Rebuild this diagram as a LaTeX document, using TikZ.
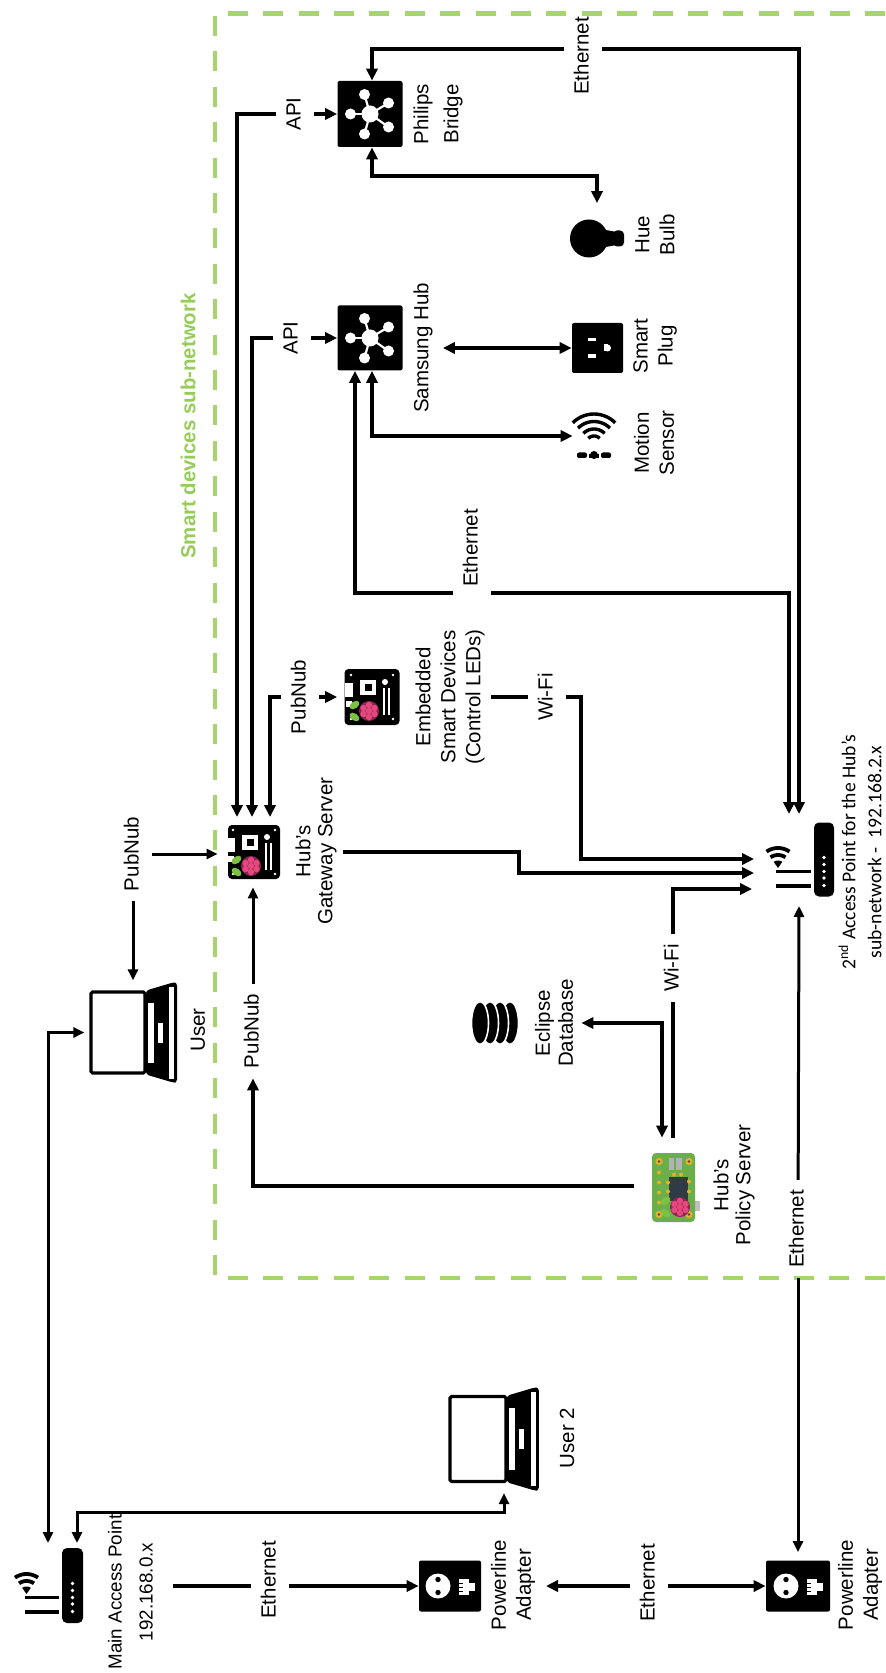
\documentclass[tikz,border=0pt]{standalone}
\usepackage{xcolor}
\usepackage{fontspec}
\setmainfont{Liberation Sans}
\newfontfamily\apfont{Carlito}
\usepackage{tikz}
\usetikzlibrary{arrows.meta,positioning,calc}
\definecolor{zonegreen}{HTML}{A6D56B}
\definecolor{zonetext}{HTML}{96CC58}
\definecolor{boardgreen}{HTML}{6BAF4B}
\definecolor{padgold}{HTML}{E5B02A}
\definecolor{socdark}{HTML}{2F3B45}
\definecolor{rasppink}{HTML}{E5487F}
\definecolor{raspdark}{HTML}{8A2450}
\definecolor{leafgreen}{HTML}{7CC242}
\tikzset{
  lbl/.style    ={rotate=90,align=center,inner sep=3pt,font=\fontsize{10.25}{11}\selectfont},
  gaplbl/.style ={lbl,text height=7.5pt,text depth=2pt,inner ysep=4.75pt,inner xsep=5pt},
  iconbox/.style={fill=black,rounded corners=1pt,inner sep=0pt},
  wire/.style   ={line width=2pt,draw=black},
  flow/.style   ={-{Stealth[length=6pt,width=5.6pt,inset=0pt]},line width=2pt,draw=black},
  dflow/.style  ={{Stealth[length=6pt,width=5.6pt,inset=0pt]}-{Stealth[length=6pt,width=5.6pt,inset=0pt]},line width=2pt,draw=black},
  tflow/.style  ={-{Stealth[length=5.5pt,width=5pt,inset=0pt]},line width=1.5pt,draw=black},
  dtflow/.style ={{Stealth[length=5.5pt,width=5pt,inset=0pt]}-{Stealth[length=5.5pt,width=5pt,inset=0pt]},line width=1.5pt,draw=black},
  zone/.style   ={draw=zonegreen,line width=2.2pt,dash pattern=on 10pt off 7.7pt},
  hubglyph/.pic={
    \foreach \px/\py in {-5.5/-19.5,18.5/-11,18.5/13,-5.5/20,-19.5/0}{
      \draw[white,line width=1.1pt] (0,0) -- (\px,\py);
      \fill[white] (\px,\py) circle[radius=5.5];
    }
    \fill[white] (0,0) circle[radius=8.5];
  },
  plugglyph/.pic={
    \fill[white] (-10,-10) rectangle (-2,-6.5);
    \fill[white] (-10,6.5) rectangle (-2,10);
    \fill[white] (6.5,-3.5) rectangle (10,3.5);
    \fill[white] (10,0) circle[radius=3.5];
  },
  powerglyph/.pic={
    \fill[white] (-12,0) circle[radius=12.5];
    \fill[black] (-12,-6.5) circle[radius=2.7];
    \fill[black] (-12,6.5) circle[radius=2.7];
    \fill[white] (9,-7) rectangle (19,9);
    \fill[white] (19,-3) rectangle (25,5);
    \foreach \py in {-3,1,5}{\fill[black] (9,\py) rectangle (13,\py+1.2);}
  },
  apglyph/.pic={
    \foreach \py in {-2,5,12,18.5,26}{\fill[white] (0,\py) circle[radius=1.8];}
    \foreach \py in {12,26.5}{\fill[black] (-48,\py-1.7) rectangle (-13.5,\py+1.7);}
    \begin{scope}[shift={(-46,8.5)}]
      \foreach \r in {20,13}{
        \draw[line width=1.9pt] plot[domain=235:305,samples=15] (\x:\r);
      }
      \fill[black] (0,0) -- plot[domain=235:305,samples=9] (\x:7.5) -- cycle;
    \end{scope}
  },
  sensorglyph/.pic={
    \begin{scope}[shift={(0,8)}]
      \foreach \r in {30,22.5,15,8}{
        \draw[line width=1.7pt] plot[domain=225:315,samples=15] (\x:\r);
      }
    \end{scope}
    \fill[black] (0,19) circle[radius=4];
    \fill[black,rounded corners=1pt] (-17,22) rectangle (-7,16.5);
    \fill[black,rounded corners=1pt] (7,16.5) rectangle (17,22);
    \fill[black] (-5,22) rectangle (5,18);
  },
  raspglyph/.pic={
    \fill[leafgreen] (-14.5,-6) circle[x radius=5.5,y radius=3.5,rotate=35];
    \fill[leafgreen] (-14.5,6) circle[x radius=5.5,y radius=3.5,rotate=-35];
    \fill[raspdark] (0,0) circle[radius=10];
    \foreach \px/\py in {0/0,0/-6,0/6,-5.5/-3,5.5/-3,-5.5/3,5.5/3}{
      \fill[rasppink] (\px,\py) circle[radius=3.2];
    }
  },
  piboard/.pic={
    \fill[white] (-27,-14) rectangle (-19,0);
    \fill[white] (-12,-17) rectangle (4,-2);
    \fill[black] (-7,-13) rectangle (0,-6);
    \fill[white] (13,-15) circle[radius=3];
    \fill[white] (11,-9) rectangle (13,18);
    \fill[white] (16,-9) rectangle (18,18);
    \fill[white] (-26,4) rectangle (-20,10);
    \foreach \px/\py in {-21/-22,21/-22,-21/22,21/22}{\fill[white] (\px,\py) circle[radius=1.4];}
    \pic at (-3,14) {raspglyph};
  },
  policyboard/.pic={
    \fill[black!25] (21,13) rectangle (27,23);
    \fill[boardgreen,rounded corners=2pt] (-21,-34.5) rectangle (22,34.5);
    \fill[black!30] (-4,-30) rectangle (1,-18);
    \fill[black!30] (3,-30) rectangle (9,-18);
    \fill[socdark] (-4,-11) rectangle (15,13);
    \foreach \px/\py in {-14/-26,16/-26,-14/27,16/27}{
      \fill[padgold] (\px,\py) circle[radius=3.6];
      \fill[black!70] (\px,\py) circle[radius=1.3];
    }
    \foreach \px/\py in {-14/-15,-14/-5,-14/5,-14/15,-5/-5,-5/4,1/-13,8/-13,16/-6,16/4}{
      \fill[padgold] (\px,\py) circle[radius=2];
    }
    \pic at (7,19.5) {raspglyph};
  },
  laptopglyph/.pic={
    \fill[black,rounded corners=1.5pt] (28,-42) -- (55,-50) -- (59,-50) -- (59,50) -- (55,50) -- (28,42) -- cycle;
    \fill[white] (30,-30) rectangle (36,30);
    \fill[white] (40,-10) rectangle (45,10);
    \fill[white] (51,-46) rectangle (56,46);
  },
  bulbglyph/.pic={
    \fill[black] (14,-9) -- (25,-7) -- (25,7) -- (14,9) -- cycle;
    \fill[black,rounded corners=2pt] (24,-8) rectangle (35,8);
  },
  dbglyph/.pic={
    \foreach \px in {15,5,-5,-15}{
      \filldraw[fill=black,draw=white,line width=0.8pt] (\px,0) circle[x radius=8.5,y radius=21.5];
    }
  }
}
\begin{document}
\begin{tikzpicture}[x=0.5pt,y=-0.5pt]
  \useasboundingbox (0,0) rectangle (885,1673);
  \draw[zone] (885,13.5) -- (215,13.5) -- (215,1278) -- (885,1278);
  \node[lbl,font=\fontsize{10.2}{12}\selectfont\bfseries,text=zonetext] (zonelbl) at (188,426) {Smart devices sub-network};

  \node[iconbox,minimum width=32.5pt,minimum height=33pt] (bridge) at (370,114) {};
  \pic at (bridge) {hubglyph};
  \node[lbl] (bridgelbl) at (438,114) {Philips\\[4pt]Bridge};
  \node[iconbox,minimum width=32.5pt,minimum height=32.5pt] (samsung) at (370,338) {};
  \pic at (samsung) {hubglyph};
  \node[lbl] (samsunglbl) at (423,348) {Samsung Hub};
  \node[fill=black,circle,inner sep=0pt,minimum size=19pt] (bulb) at (589,238.5) {};
  \pic at (bulb) {bulbglyph};
  \node[lbl] (bulblbl) at (655,235) {Hue\\[1.5pt]Bulb};
  \node[iconbox,minimum width=25.5pt,minimum height=25pt] (plug) at (597.5,348) {};
  \pic at (plug) {plugglyph};
  \node[lbl] (pluglbl) at (655,346) {Smart\\[1.5pt]Plug};
  \node[minimum width=21pt,minimum height=22pt,inner sep=0pt] (motion) at (594,436) {};
  \pic at (motion) {sensorglyph};
  \node[lbl] (motionlbl) at (654,443) {Motion\\[1.5pt]Sensor};
  \node[iconbox,minimum width=27.5pt,minimum height=28pt,rounded corners=2pt] (embedded) at (372,697) {};
  \pic at (embedded) {piboard};
  \node[lbl] (embeddedlbl) at (450,697) {Embedded\\[1.5pt]Smart Devices\\[1.5pt](Control LEDs)};
  \node[iconbox,minimum width=26pt,minimum height=27pt,rounded corners=2pt] (gateway) at (254,852) {};
  \pic at (gateway) {piboard};
  \node[lbl] (gatewaylbl) at (316,851) {Hub’s\\Gateway Server};
  \node[minimum width=21.5pt,minimum height=34.5pt,inner sep=0pt] (policy) at (673,1187.5) {};
  \pic at (policy) {policyboard};
  \node[lbl] (policylbl) at (734,1185) {Hub’s\\Policy Server};
  \node[minimum width=23pt,minimum height=21pt,inner sep=0pt] (eclipse) at (495,1023) {};
  \pic at (eclipse) {dbglyph};
  \node[lbl] (eclipselbl) at (554,1023) {Eclipse\\[0.5pt]Database};
  \node[draw=black,fill=white,line width=1.6pt,rounded corners=0.8pt,minimum width=27pt,minimum height=40.5pt,inner sep=0pt] (user) at (118,1032.5) {};
  \pic at (user) {laptopglyph};
  \node[lbl] (userlbl) at (198,1030) {User};
  \node[draw=black,fill=white,line width=1.6pt,rounded corners=0.8pt,minimum width=28pt,minimum height=42.5pt,inner sep=0pt] (usertwo) at (478,1439) {};
  \pic[scale=1.03] at (usertwo) {laptopglyph};
  \node[lbl] (usertwolbl) at (567,1438) {User 2};
  \node[iconbox,minimum width=10pt,minimum height=37pt,rounded corners=2.5pt] (apsub) at (824,859.5) {};
  \pic at (apsub) {apglyph};
  \node[lbl,inner sep=0pt,font=\apfont\fontsize{9.8}{13}\selectfont] (apsublbl) at (860,852) {2\textsuperscript{nd} Access Point for the Hub’s\\sub-network -~~192.168.2.x};
  \node[iconbox,minimum width=10.5pt,minimum height=37.5pt,rounded corners=2.5pt] (apmain) at (72.5,1585.5) {};
  \pic at (apmain) {apglyph};
  \node[lbl,font=\fontsize{9.4}{15.5}\selectfont] (apmainlbl) at (130.5,1592) {Main Access Point\\192.168.0.x};
  \node[iconbox,minimum width=31pt,minimum height=25.5pt] (powerone) at (450,1586) {};
  \pic at (powerone) {powerglyph};
  \node[lbl] (poweronelbl) at (513,1585) {Powerline\\[1.5pt]Adapter};
  \node[iconbox,minimum width=32pt,minimum height=25.5pt] (powertwo) at (798,1586) {};
  \pic at (powertwo) {powerglyph};
  \node[lbl] (powertwolbl) at (860,1585) {Powerline\\[1.5pt]Adapter};

  \node[gaplbl] (ethtop) at (583,56) {Ethernet};
  \node[gaplbl] (ethhub) at (472,548) {Ethernet};
  \node[gaplbl] (ethap) at (798,1229) {Ethernet};
  \node[gaplbl] (ethone) at (270,1580) {Ethernet};
  \node[gaplbl] (ethtwo) at (649,1583) {Ethernet};
  \node[gaplbl] (apibridge) at (295,114) {API};
  \node[gaplbl] (apisamsung) at (292,338) {API};
  \node[gaplbl] (pubuser) at (133,854) {PubNub};
  \node[gaplbl] (pubpolicy) at (253,1031) {PubNub};
  \node[gaplbl] (pubembedded) at (300,697) {PubNub};
  \node[gaplbl] (wifiembedded) at (547,697) {Wi-Fi};
  \node[gaplbl] (wifipolicy) at (673,968) {Wi-Fi};

  \coordinate (gwa) at (237,817);
  \coordinate (gwb) at (252,817);
  \coordinate (gwc) at (270,817);
  \coordinate (apa) at (789,814);
  \coordinate (apb) at (799,814);
  \coordinate (apc) at (754,859);
  \coordinate (apd) at (754,873);
  \coordinate (ape) at (752,889);
  \coordinate (apf) at (799,906);
  \coordinate (ethtopline) at (799,49);
  \coordinate (ethhubline) at (789,593);
  \coordinate (mainout) at (173,1586);
  \coordinate (powerin) at (546,1586);
  \coordinate (maina) at (48,1543);
  \coordinate (mainb) at (77,1543);

  \draw[flow] (ethtop.south |- ethtopline) -- (ethtopline) -- (apb);
  \draw[flow] (ethtop.north |- ethtopline) -| ([xshift=1pt]bridge.north);
  \draw[flow] (apibridge) -| (gwa);
  \draw[flow] (apibridge) -- (bridge);
  \draw[dflow] ([xshift=1pt]bridge.south) -- ++(0,29) -| ([xshift=4pt,yshift=8pt]bulb.north);
  \draw[flow] (apisamsung) -| (gwb);
  \draw[flow] (apisamsung) -- (samsung);
  \draw[dflow,shorten <=2pt] (samsunglbl) -- (plug);
  \draw[dflow] ([xshift=1pt]samsung.south) |- (motion);
  \draw[flow] (ethhub.north |- ethhubline) -| ([xshift=-7.5pt]samsung.south);
  \draw[flow] (ethhub.south |- ethhubline) -- (ethhubline) -- (apa);
  \draw[flow] (pubembedded) -| (gwc);
  \draw[flow,shorten >=3.5pt] (pubembedded) -- (embedded);
  \draw[wire] (embeddedlbl) -- (wifiembedded);
  \draw[flow] (wifiembedded) -- (581,697) |- (apc);
  \draw[flow] (gatewaylbl.south |- gateway) -- (519,852) |- (apd);
  \draw[wire] ([yshift=7.5pt]policy.north) -- (wifipolicy);
  \draw[flow] (wifipolicy) |- (ape);
  \draw[dflow,shorten <=1pt] (eclipselbl) -| ([xshift=-5.5pt,yshift=7.5pt]policy.north);
  \draw[flow] ([xshift=-8.5pt,yshift=1pt]policy.west) -| (pubpolicy);
  \draw[tflow,shorten >=4pt] (pubpolicy) -- (pubpolicy |- gateway.south);
  \draw[tflow,shorten >=5pt] (pubuser) -- (pubuser -| gateway.west);
  \draw[tflow,shorten >=5pt] (pubuser) -- (pubuser |- user.north);
  \draw[tflow] (ethap) -- (apf);
  \draw[tflow,shorten >=4pt] (ethap) -- (ethap |- powertwo.north);
  \draw[dtflow,shorten >=2.5pt] (maina) |- (user.west);
  \draw[dtflow] (mainb) -- (77,1512) -| ([xshift=13pt,yshift=-5pt]usertwo.south);
  \draw[wire] (mainout) -- (ethone.north |- mainout);
  \draw[flow] (ethone.south |- mainout) -- (powerone.west);
  \draw[flow] (ethtwo.north |- powerin) -- (powerin);
  \draw[flow] (ethtwo.south |- powerin) -- (powertwo.west);
\end{tikzpicture}
\end{document}
